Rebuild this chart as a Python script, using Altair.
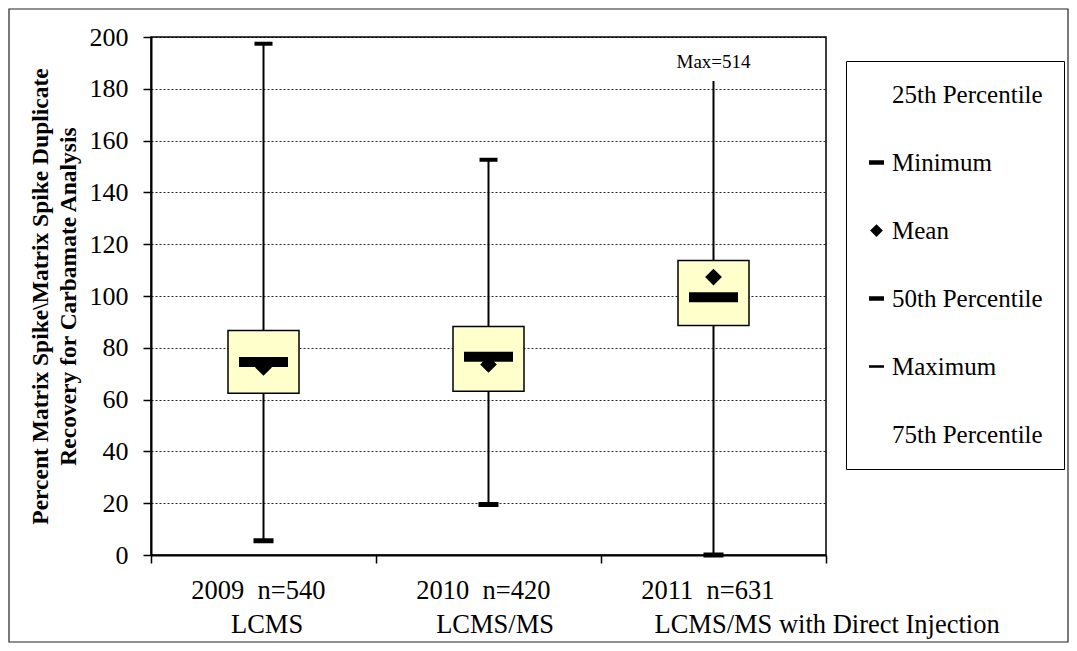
import altair as alt
import pandas as pd

# ---- data ----
years = ["2009", "2010", "2011"]
counts = ["n=540", "n=420", "n=631"]
methods = ["LCMS", "LCMS/MS", "LCMS/MS with Direct Injection"]
year_pad = [6, 6, 6]             # leading no-break spaces (label indent as in original)
method_pad = [12, 9, 8]
minimum = [5.5, 19.5, 0.0]
q1 = [62.5, 63.2, 88.6]
median = [74.5, 76.5, 99.5]
mean = [72.4, 73.6, 107.3]
q3 = [86.7, 88.2, 113.7]
maximum = [197.4, 152.6, 514.0]
whisker_top = [197.4, 152.6, 183.0]
max_label = ["", "", "Max=514"]

legend_items = ["25th Percentile", "Minimum", "Mean", "50th Percentile", "Maximum", "75th Percentile"]
legend_shapes = [
    "M0,0",
    "M-1.4,-0.3H0.6V0.3H-1.4Z",
    "M-0.4,-0.85L0.45,0L-0.4,0.85L-1.25,0Z",
    "M-1.4,-0.3H0.6V0.3H-1.4Z",
    "M-1.4,-0.17H0.6V0.17H-1.4Z",
    "M0,0",
]

NB = "\u00a0"
ZW = "\u200b"
cats = [
    f"{ZW}{NB * yp}{y}{NB}{NB}{c}|{ZW}{NB * mp}{m}"
    for y, c, m, yp, mp in zip(years, counts, methods, year_pad, method_pad)
]

df = pd.DataFrame({
    "cat": cats, "minimum": minimum, "q1": q1, "median": median, "mean": mean,
    "q3": q3, "maximum": maximum, "whisker_top": whisker_top, "max_label": max_label,
})

FONT = "Liberation Serif"
W, H = 675, 518
BAND = W / len(cats)

x_enc = alt.X(
    "cat:N",
    scale=alt.Scale(domain=cats, paddingInner=0, paddingOuter=0),
    axis=alt.Axis(
        title=None, labelExpr="split(datum.label, '|')", labelAngle=0,
        labelAlign="left", labelOffset=-BAND / 2,
        labelFont=FONT, labelFontSize=26.5, labelColor="black", labelLimit=1000,
        labelPadding=14, labelLineHeight=34, tickBand="extent", tickSize=8,
        tickColor="black", tickWidth=1.5, domainColor="black", domainWidth=2,
        grid=False,
    ),
)
y_scale = alt.Scale(domain=[0, 200], nice=False, zero=True)
y_axis = alt.Axis(
    title=["Percent Matrix Spike\\Matrix Spike Duplicate", "Recovery for Carbamate Analysis"],
    titleFont=FONT, titleFontSize=23.5, titleFontWeight="bold", titleColor="black",
    titleLineHeight=28, titlePadding=9,
    values=list(range(0, 201, 20)), labelFont=FONT, labelFontSize=26, labelColor="black",
    labelPadding=15, tickSize=8, tickColor="black", tickWidth=1.5,
    domainColor="black", domainWidth=2,
    grid=True, gridColor="black", gridDash=[2, 2], gridWidth=1, gridOpacity=0.85,
)

base = alt.Chart(df)

frame = alt.Chart(pd.DataFrame({"f": [0]})).mark_rect(
    filled=False, stroke="#222222", strokeWidth=1.2
).encode(
    x=alt.value(-142), x2=alt.value(W + 242), y=alt.value(-28), y2=alt.value(H + 87)
)

whisker = base.mark_rule(color="black", strokeWidth=2).encode(
    x=x_enc, y=alt.Y("minimum:Q", scale=y_scale, axis=y_axis), y2="whisker_top:Q"
)

box = base.mark_bar(width=71, fill="#FFFFCC", stroke="black", strokeWidth=1.5).encode(
    x=x_enc, y=alt.Y("q1:Q", scale=y_scale, axis=y_axis), y2="q3:Q"
)

mean_pt = base.mark_point(shape="diamond", filled=True, size=280, color="black", opacity=1).encode(
    x=x_enc, y=alt.Y("mean:Q", scale=y_scale, axis=y_axis)
)

med = base.mark_tick(thickness=10, size=49, color="black", opacity=1).encode(
    x=x_enc, y=alt.Y("median:Q", scale=y_scale, axis=y_axis)
)

min_cap = base.mark_tick(thickness=5, size=20, color="black", opacity=1).encode(
    x=x_enc, y=alt.Y("minimum:Q", scale=y_scale, axis=y_axis)
)

max_cap = base.transform_filter("datum.maximum <= 200").mark_tick(
    thickness=4, size=18, color="black", opacity=1
).encode(x=x_enc, y=alt.Y("maximum:Q", scale=y_scale, axis=y_axis))

max_text = base.transform_filter("datum.max_label != ''").mark_text(
    font=FONT, fontSize=19, color="black", dy=-19
).encode(x=x_enc, y=alt.Y("whisker_top:Q", scale=y_scale, axis=y_axis), text="max_label:N")

legend_layer = alt.Chart(pd.DataFrame({"item": legend_items})).transform_filter("false").mark_point(
    filled=True, color="black", opacity=1
).encode(
    shape=alt.Shape(
        "item:N",
        scale=alt.Scale(domain=legend_items, range=legend_shapes),
        legend=alt.Legend(
            orient="none", legendX=695, legendY=24, title=None,
            padding=21, rowPadding=42, symbolSize=225, symbolFillColor="black",
            symbolStrokeWidth=0, symbolOpacity=1,
            labelFont=FONT, labelFontSize=25, labelColor="black", labelOffset=0,
            labelLimit=400, strokeColor="black", fillColor="white",
        ),
    )
)

chart = alt.layer(
    frame, whisker, box, mean_pt, med, min_cap, max_cap, max_text, legend_layer
).properties(
    width=W, height=H,
    autosize=alt.AutoSizeParams(type="none"),
    padding={"left": 143, "top": 29, "right": 243, "bottom": 88},
    background="white",
).configure_view(
    stroke="black", strokeWidth=1.5
)

chart.save("out.html", embed_options={"renderer": "svg", "actions": False})
